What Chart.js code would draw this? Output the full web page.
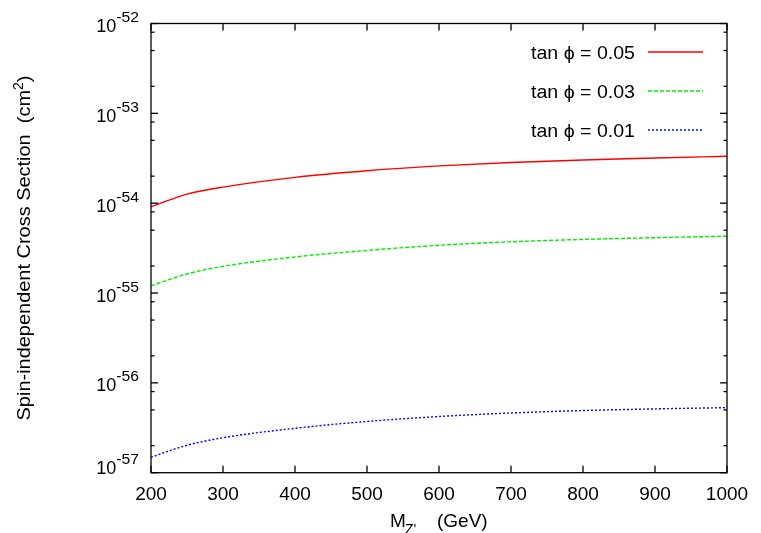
<!DOCTYPE html>
<html>
<head>
<meta charset="utf-8">
<script src="https://cdn.jsdelivr.net/npm/chart.js@4/dist/chart.umd.min.js"></script>
<style>
  html, body { margin: 0; padding: 0; background: #fff; }
  #wrap { width: 761px; height: 533px; }
</style>
</head>
<body>
<div id="wrap"><canvas id="myChart"></canvas></div>
<script>
'use strict'

/* global Chart */

// Z' mass in GeV
const mass = [200, 225, 250, 300, 400, 500, 600, 700, 800, 900, 1000]

// spin-independent cross section, cm^2
const tan005 = [9.1e-55, 1.08e-54, 1.26e-54, 1.51e-54, 1.94e-54, 2.3e-54, 2.6e-54, 2.84e-54, 3.03e-54, 3.18e-54, 3.33e-54]
const tan003 = [1.2e-55, 1.41e-55, 1.63e-55, 1.98e-55, 2.52e-55, 2.98e-55, 3.4e-55, 3.72e-55, 3.95e-55, 4.13e-55, 4.29e-55]
const tan001 = [1.48e-57, 1.75e-57, 2.02e-57, 2.45e-57, 3.12e-57, 3.72e-57, 4.22e-57, 4.62e-57, 4.92e-57, 5.13e-57, 5.3e-57]

const seriesLabels = ['tan \u03d5 = 0.05', 'tan \u03d5 = 0.03', 'tan \u03d5 = 0.01']

const xTicks = [200, 300, 400, 500, 600, 700, 800, 900, 1000]
const yExponents = [-57, -56, -55, -54, -53, -52]
const yMinor = [2, 5, 8]

const FONT = '"Liberation Sans", Arial, Helvetica, sans-serif'
const ctxEl = document.querySelector('#myChart')

function line (ctx, x1, y1, x2, y2) {
  ctx.beginPath()
  ctx.moveTo(x1, y1)
  ctx.lineTo(x2, y2)
  ctx.stroke()
}

// text with an optional horizontal stretch, returns drawn width
function txt (ctx, s, x, y, size, align, sx) {
  sx = sx || 1
  ctx.font = size + 'px ' + FONT
  const w = ctx.measureText(s).width * sx
  let x0 = x
  if (align === 'right') x0 = x - w
  if (align === 'center') x0 = x - w / 2
  ctx.save()
  ctx.translate(x0, y)
  ctx.scale(sx, 1)
  ctx.textAlign = 'left'
  ctx.fillText(s, 0, 0)
  ctx.restore()
  return w
}

function width (ctx, s, size, sx) {
  ctx.font = size + 'px ' + FONT
  return ctx.measureText(s).width * (sx || 1)
}

const gnuplotFrame = {
  id: 'gnuplotFrame',
  afterDatasetsDraw (chart) {
    const { ctx, chartArea: a } = chart
    const x = chart.scales.x
    const y = chart.scales.y
    ctx.save()
    ctx.strokeStyle = '#000'
    ctx.fillStyle = '#000'
    ctx.textBaseline = 'alphabetic'
    ctx.lineWidth = 1.3
    ctx.strokeRect(a.left, a.top, a.right - a.left, a.bottom - a.top)

    // x ticks, inward on both sides
    for (const v of xTicks) {
      const px = x.getPixelForValue(v)
      line(ctx, px, a.bottom, px, a.bottom - 7)
      line(ctx, px, a.top, px, a.top + 7)
      txt(ctx, String(v), px, 500, 19, 'center')
    }

    // y ticks
    for (const e of yExponents) {
      const py = y.getPixelForValue(Math.pow(10, e))
      line(ctx, a.left, py, a.left + 7, py)
      line(ctx, a.right, py, a.right - 7, py)
      for (const m of yMinor) {
        const v = m * Math.pow(10, e)
        if (v > y.max) continue
        const pm = y.getPixelForValue(v)
        line(ctx, a.left, pm, a.left + 3.5, pm)
        line(ctx, a.right, pm, a.right - 3.5, pm)
      }
      // label 10^e
      const sup = String(e)
      const wSup = width(ctx, sup, 14, 1.12)
      const wBase = width(ctx, '10', 18)
      const x0 = 139 - wSup - wBase
      const dy = e === yExponents[0] ? -7 : 0
      txt(ctx, '10', x0, py + 8.5 + dy, 18, 'left')
      txt(ctx, sup, x0 + wBase, py - 1.5 + dy, 14, 'left', 1.12)
    }

    // x axis title
    txt(ctx, 'M', 390, 527, 19, 'left')
    txt(ctx, "Z'", 405, 534, 14, 'left')
    txt(ctx, '(GeV)', 437, 527, 19, 'left')

    // y axis title, rotated
    ctx.save()
    ctx.translate(30, 248)
    ctx.rotate(-Math.PI / 2)
    const t1 = 'Spin-independent Cross Section  (cm'
    const sxT = 1.05
    const w1 = width(ctx, t1, 19, sxT)
    const w2 = width(ctx, '2', 14)
    const w3 = width(ctx, ')', 19, sxT)
    let cx = -(w1 + w2 + w3) / 2
    cx += txt(ctx, t1, cx, 0, 19, 'left', sxT)
    cx += txt(ctx, '2', cx, -7, 14, 'left')
    txt(ctx, ')', cx, 0, 19, 'left', sxT)
    ctx.restore()

    // key, gnuplot style: text right aligned, sample line to the right
    chart.data.datasets.forEach((ds, i) => {
      const ry = 52 + i * 39
      txt(ctx, ds.label, 635, ry + 7, 19, 'right', 1.03)
      ctx.save()
      ctx.strokeStyle = ds.borderColor
      ctx.lineWidth = ds.borderWidth
      ctx.setLineDash(ds.borderDash || [])
      line(ctx, 648, ry, 703, ry)
      ctx.restore()
    })
    ctx.restore()
  }
}

const myChart = new Chart(ctxEl, {
  type: 'line',
  data: {
    labels: mass,
    datasets: [{
      label: seriesLabels[0],
      data: tan005,
      borderColor: '#ff0000',
      borderWidth: 1.4,
      borderDash: []
    }, {
      label: seriesLabels[1],
      data: tan003,
      borderColor: '#00ee00',
      borderWidth: 1.4,
      borderDash: [4, 2]
    }, {
      label: seriesLabels[2],
      data: tan001,
      borderColor: '#0000ff',
      borderWidth: 1.4,
      borderDash: [2, 2]
    }]
  },
  options: {
    responsive: true,
    maintainAspectRatio: false,
    animation: false,
    events: [],
    layout: {
      padding: { left: 151, right: 34, top: 23.5, bottom: 60.3 }
    },
    elements: {
      point: { radius: 0 },
      line: { cubicInterpolationMode: 'monotone', fill: false }
    },
    plugins: {
      legend: { display: false },
      tooltip: { enabled: false }
    },
    scales: {
      x: {
        type: 'linear',
        display: false,
        min: 200,
        max: 1000
      },
      y: {
        type: 'logarithmic',
        display: false,
        min: 1e-57,
        max: 1e-52
      }
    }
  },
  plugins: [gnuplotFrame]
})
</script>
</body>
</html>
